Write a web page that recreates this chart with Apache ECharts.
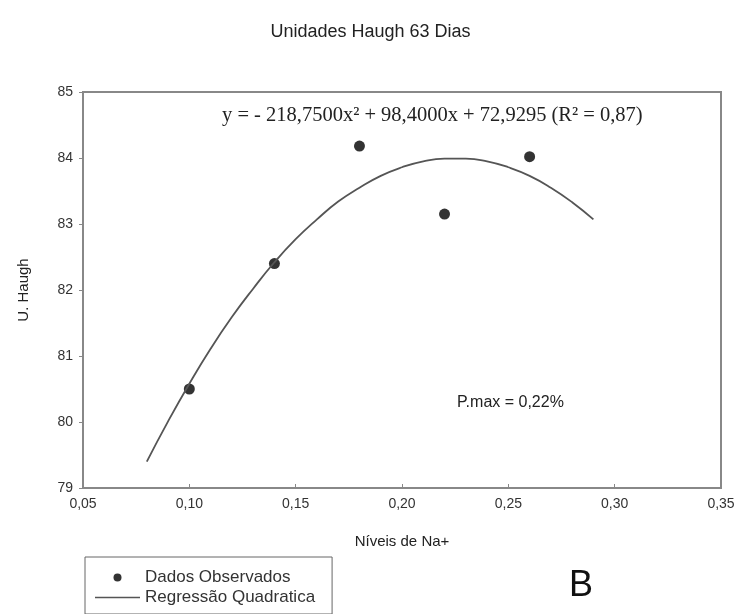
<!DOCTYPE html>
<html><head><meta charset="utf-8">
<script src="https://cdn.jsdelivr.net/npm/echarts@6/dist/echarts.min.js"></script>
<style>html,body{margin:0;padding:0;background:#fff}#c{width:741px;height:614px}</style>
</head><body><div id="c"></div>
<script>
// Observed data
const obsX = [0.10, 0.14, 0.18, 0.22, 0.26];
const obsY = [80.5, 82.4, 84.18, 83.15, 84.02];
// Regression curve
const curveX = [0.08,0.09,0.10,0.11,0.12,0.13,0.14,0.15,0.16,0.17,0.18,0.19,0.20,0.21,0.22,0.23,0.24,0.25,0.26,0.27,0.28,0.29];
const curveY = [79.40,80.01,80.58,81.11,81.59,82.02,82.42,82.77,83.07,83.34,83.55,83.73,83.86,83.95,83.99,83.99,83.95,83.86,83.73,83.55,83.33,83.07];
const xTicks = ['0,05','0,10','0,15','0,20','0,25','0,30','0,35'];
const yTicks = ['79','80','81','82','83','84','85'];

const chart = echarts.init(document.getElementById('c'));
const sans = 'Liberation Sans, Arial, sans-serif';
chart.setOption({
  animation: false,
  backgroundColor: '#fff',
  title: { text: 'Unidades Haugh 63 Dias', left: 'center', top: 18,
    textStyle: { fontFamily: sans, fontSize: 18, fontWeight: 'normal', color: '#222' } },
  grid: { left: 83, right: 20, top: 92, bottom: 126, show: true, borderColor: '#888', borderWidth: 2 },
  xAxis: { type: 'value', min: 0.05, max: 0.35, interval: 0.05,
    name: 'Níveis de Na+', nameLocation: 'middle', nameGap: 46,
    nameTextStyle: { fontFamily: sans, fontSize: 15, color: '#222' },
    axisLine: { lineStyle: { color: '#888', width: 2 } },
    axisTick: { inside: true, length: 4, lineStyle: { color: '#888' } },
    splitLine: { show: false },
    axisLabel: { fontFamily: sans, fontSize: 14, color: '#333', margin: 9,
      formatter: (v) => xTicks[Math.round((v - 0.05) / 0.05)] } },
  yAxis: { type: 'value', min: 79, max: 85, interval: 1,
    name: 'U. Haugh', nameLocation: 'middle', nameGap: 52, nameRotate: 90,
    nameTextStyle: { fontFamily: sans, fontSize: 15, color: '#222' },
    axisLine: { show: true, lineStyle: { color: '#888', width: 2 } },
    axisTick: { show: true, length: 4, lineStyle: { color: '#888' } },
    splitLine: { show: false },
    axisLabel: { fontFamily: sans, fontSize: 14, color: '#333', margin: 10,
      formatter: (v) => yTicks[Math.round(v - 79)] } },
  legend: { orient: 'vertical', left: 85, top: 557, itemGap: 3, itemWidth: 45, itemHeight: 8,
    padding: [12, 17, 8, 10], borderColor: '#666', borderWidth: 1,
    textStyle: { fontFamily: sans, fontSize: 17, color: '#333' },
    data: [
      { name: 'Dados Observados', icon: 'circle', itemStyle: { color: '#000' } },
      { name: 'Regressão Quadratica', icon: 'path://M0,0H40V1.5H0Z', itemStyle: { color: '#555' } }
    ] },
  series: [
    { name: 'Regressão Quadratica', type: 'line', smooth: true, showSymbol: false,
      lineStyle: { color: '#555', width: 1.8 }, itemStyle: { color: '#555' },
      data: curveX.map((x, i) => [x, curveY[i]]) },
    { name: 'Dados Observados', type: 'scatter', symbolSize: 11,
      itemStyle: { color: '#000' },
      data: obsX.map((x, i) => [x, obsY[i]]) }
  ],
  graphic: [
    { type: 'text', left: 222, top: 105, style: { text: 'y = - 218,7500x² + 98,4000x + 72,9295 (R² = 0,87)',
      font: '20.5px "Liberation Serif", "Times New Roman", serif', fill: '#222' } },
    { type: 'text', left: 457, top: 395, style: { text: 'P.max = 0,22%',
      font: '16px "Liberation Sans", Arial, sans-serif', fill: '#222' } },
    { type: 'text', left: 569, top: 568, style: { text: 'B',
      font: '36px "Liberation Sans", Arial, sans-serif', fill: '#111' } }
  ]
});
</script></body></html>
